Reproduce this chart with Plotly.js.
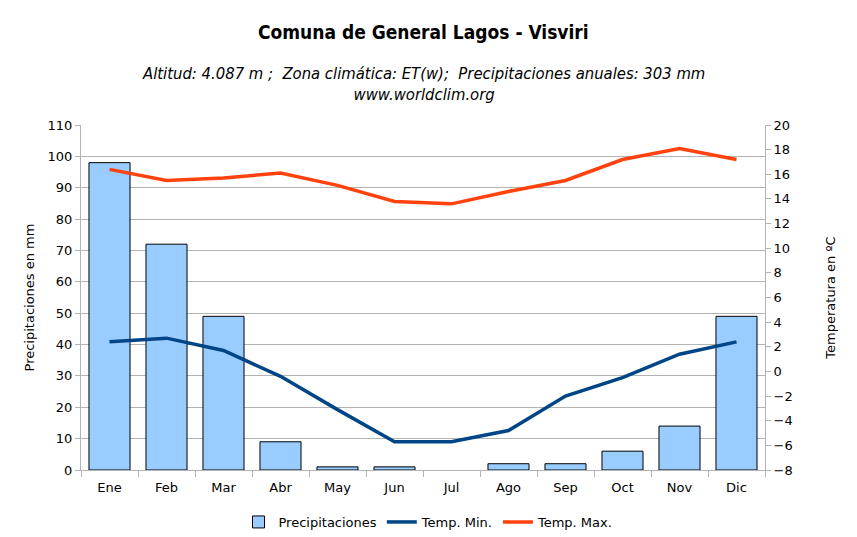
<!DOCTYPE html>
<html>
<head>
<meta charset="utf-8">
<script src="https://cdn.plot.ly/plotly-3.0.1.min.js"></script>
<style>
	body { margin: 0; background: #ffffff; }
	#chart { width: 857px; height: 537px; }
</style>
</head>
<body>
<div id="chart"></div>
<script>
var meses = ["Ene", "Feb", "Mar", "Abr", "May", "Jun", "Jul", "Ago", "Sep", "Oct", "Nov", "Dic"];
var precipitaciones = [98, 72, 49, 9, 1, 1, 0, 2, 2, 6, 14, 49];
var tempMin = [2.4, 2.7, 1.7, -0.4, -3.1, -5.7, -5.7, -4.8, -2.0, -0.5, 1.4, 2.4];
var tempMax = [16.4, 15.5, 15.7, 16.1, 15.1, 13.8, 13.6, 14.6, 15.5, 17.2, 18.1, 17.2];

var font = "DejaVu Sans, Verdana, sans-serif";
var fontCond = "DejaVu Sans Condensed, DejaVu Sans, sans-serif";
var gris = "#b3b3b3";

// a month without rain gets no outline at all
var bordes = precipitaciones.map(function(v){ return v > 0 ? 1 : 0; });

var barras = {
	x: meses,
	y: precipitaciones,
	type: "bar",
	name: "Precipitaciones",
	marker: {
		color: "#99ccff",
		line: {color: "#000000", width: bordes}
	}
};

var minimas = {
	x: meses,
	y: tempMin,
	type: "scatter",
	mode: "lines",
	name: "Temp. Min.",
	yaxis: "y2",
	line: {color: "#004586", width: 3.5}
};

var maximas = {
	x: meses,
	y: tempMax,
	type: "scatter",
	mode: "lines",
	name: "Temp. Max.",
	yaxis: "y2",
	line: {color: "#ff420e", width: 3.5}
};

var layout = {
	width: 857,
	height: 537,
	margin: {l: 81, r: 92, t: 125, b: 67},
	paper_bgcolor: "#ffffff",
	plot_bgcolor: "#ffffff",
	font: {family: font, size: 13, color: "#000000"},
	bargap: 0.28,
	showlegend: true,
	legend: {
		orientation: "h",
		xref: "container",
		yref: "container",
		x: 0.5,
		xanchor: "center",
		y: 0.0,
		yanchor: "bottom",
		font: {family: font, size: 13},
		traceorder: "normal"
	},
	xaxis: {
		type: "category",
		automargin: false,
		showline: true,
		linecolor: gris,
		linewidth: 1,
		ticks: "outside",
		tickson: "boundaries",
		ticklen: 6,
		tickcolor: gris,
		showgrid: false,
		ticklabelstandoff: 5,
		tickfont: {family: font, size: 13}
	},
	yaxis: {
		range: [0, 110],
		dtick: 10,
		automargin: false,
		showline: true,
		linecolor: gris,
		ticks: "outside",
		ticklen: 5,
		tickcolor: gris,
		gridcolor: gris,
		zeroline: false,
		tickfont: {family: font, size: 13},
		title: {text: "Precipitaciones en mm", font: {family: font, size: 13}, standoff: 10}
	},
	yaxis2: {
		range: [-8, 20],
		dtick: 2,
		overlaying: "y",
		side: "right",
		automargin: false,
		showline: true,
		linecolor: gris,
		ticks: "outside",
		ticklen: 5,
		tickcolor: gris,
		showgrid: false,
		zeroline: false,
		tickfont: {family: font, size: 13},
		title: {text: "Temperatura en ºC", font: {family: font, size: 13}, standoff: 34}
	},
	annotations: [
		{
			text: "<b>Comuna de General Lagos - Visviri</b>",
			xref: "paper", yref: "paper",
			x: 0.5, y: 1, xanchor: "center", yanchor: "middle",
			yshift: 93, showarrow: false,
			font: {family: fontCond, size: 19}
		},
		{
			text: "<i>Altitud: 4.087 m ;  Zona climática: ET(w);  Precipitaciones anuales: 303 mm</i><br><i>www.worldclim.org</i>",
			xref: "paper", yref: "paper",
			x: 0.5, y: 1, xanchor: "center", yanchor: "middle",
			yshift: 41, showarrow: false,
			font: {family: fontCond, size: 16.5}
		}
	]
};

Plotly.newPlot("chart", [barras, minimas, maximas], layout, {displayModeBar: false, staticPlot: true});
</script>
</body>
</html>
